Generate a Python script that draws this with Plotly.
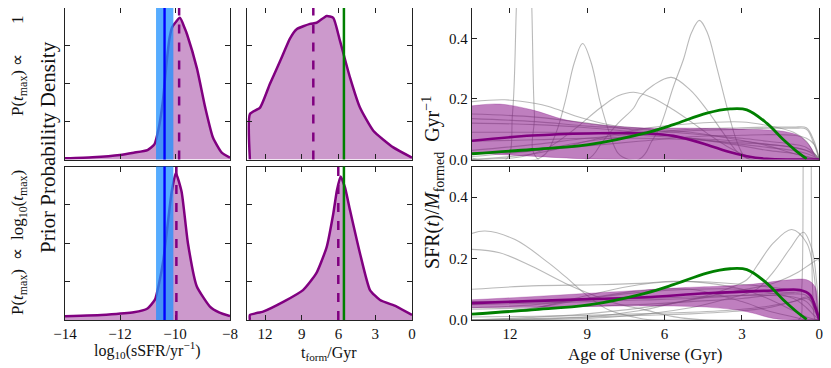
import plotly.graph_objects as go

# ---------------- data ----------------
# left column: log10 sSFR prior densities (arbitrary units, 0-4 axis)
ssfr_top_x = [-14, -13, -12, -11.5, -11, -10.75, -10.6, -10.44, -10.3, -10.2, -10.1, -9.82, -9.65, -9.56, -9.2, -8.9, -8.62, -8.3, -8]
ssfr_top_y = [0.03, 0.06, 0.12, 0.18, 0.25, 0.4, 0.8, 1.55, 2.6, 3.2, 3.5, 3.74, 3.47, 3.3, 2.4, 1.37, 0.58, 0.18, 0.05]
ssfr_bot_x = [-14, -12.5, -11.5, -11, -10.73, -10.58, -10.42, -10.12, -9.97, -9.76, -9.53, -9.21, -8.73, -8.4, -8]
ssfr_bot_y = [0.1, 0.14, 0.2, 0.3, 0.53, 0.95, 1.58, 3.34, 3.83, 3.34, 2.0, 0.88, 0.35, 0.2, 0.1]
ssfr_median = [-9.85, -9.95]
ssfr_obs = -10.38
ssfr_obs_range = [-10.69, -10.06]

# middle column: formation time prior densities
tform_top_x = [13.24, 13.24, 12.41, 11.6, 10.77, 9.96, 9.42, 8.33, 7.79, 6.97, 6.43, 5.88, 5.06, 4.25, 3.16, 1.53, 0]
tform_top_y = [0, 1.2, 1.37, 2.0, 2.6, 3.2, 3.44, 3.58, 3.61, 3.79, 3.74, 3.13, 2.16, 1.37, 0.76, 0.32, 0.05]
tform_bot_x = [13.24, 13.24, 12.16, 10.48, 8.9, 7.81, 6.97, 6.43, 6.13, 5.83, 5.48, 5.06, 4.25, 3.43, 2.61, 1.25, 0]
tform_bot_y = [0, 0.13, 0.22, 0.48, 0.78, 1.22, 1.9, 2.77, 3.38, 3.74, 3.46, 2.86, 1.74, 0.78, 0.52, 0.35, 0.13]
tform_median = [8.06, 6.02]
tform_true = 5.56

# right column: star-formation histories
grid = [13.47, 11, 9, 7, 5, 3, 2, 1, 0.5, 0.2, 0]

gray_top = [
    ([13.47, 12.15, 11.9, 11.75, 11.6, 11.3, 11.15, 11.05, 10.9, 0], [0.005, 0.0, 0.15, 0.5, 0.9, 0.9, 0.5, 0.15, 0.0, 0.0]),
    ([13.47, 11.0, 10.6, 10.2, 9.86, 9.5, 9.18, 8.85, 8.5, 8.15, 7.8, 7.4, 5.0, 0], [0, 0, 0.02, 0.09, 0.19, 0.32, 0.383, 0.32, 0.19, 0.09, 0.02, 0, 0, 0]),
    ([13.47, 11.5, 10.5, 9.5, 8.5, 7.8, 7.2, 6.5, 5.66, 4.9, 4.36, 3.59, 2.8, 2.0, 0], [0.0, 0.01, 0.04, 0.1, 0.17, 0.21, 0.222, 0.205, 0.164, 0.12, 0.087, 0.044, 0.012, 0.0, 0.0]),
    ([13.47, 9.0, 8.4, 7.8, 7.2, 6.95, 6.43, 5.74, 5.01, 4.36, 3.72, 3.2, 2.7, 0], [0, 0, 0.06, 0.12, 0.17, 0.207, 0.246, 0.271, 0.23, 0.164, 0.087, 0.027, 0, 0]),
    ([13.47, 7.0, 6.5, 6.17, 5.66, 5.27, 4.95, 4.65, 4.35, 3.98, 3.59, 3.2, 2.9, 2.6, 0], [0, 0, 0.06, 0.109, 0.24, 0.33, 0.42, 0.459, 0.42, 0.306, 0.175, 0.06, 0.01, 0, 0]),
    ([13.47, 12.2, 11.0, 10.5, 9.2, 8.0, 6.5, 5.0, 3.5, 2.0, 1.0, 0.3, 0], [0.191, 0.197, 0.185, 0.175, 0.137, 0.112, 0.1, 0.09, 0.07, 0.045, 0.02, 0.005, 0]),
    (grid, [0.03, 0.05, 0.07, 0.085, 0.1, 0.105, 0.107, 0.107, 0.105, 0.06, 0]),
    (grid, [0.01, 0.03, 0.06, 0.08, 0.095, 0.1, 0.103, 0.103, 0.1, 0.05, 0]),
    (grid, [0.0, 0.02, 0.06, 0.1, 0.118, 0.124, 0.112, 0.09, 0.06, 0.02, 0]),
    (grid, [0.15, 0.14, 0.12, 0.095, 0.07, 0.045, 0.03, 0.02, 0.01, 0.005, 0]),
    (grid, [0.12, 0.115, 0.105, 0.09, 0.07, 0.05, 0.04, 0.03, 0.02, 0.01, 0]),
    (grid, [0.09, 0.09, 0.088, 0.08, 0.07, 0.06, 0.05, 0.04, 0.03, 0.015, 0]),
    (grid, [0.06, 0.065, 0.07, 0.07, 0.065, 0.055, 0.05, 0.04, 0.03, 0.02, 0]),
    (grid, [0.135, 0.125, 0.11, 0.1, 0.085, 0.07, 0.06, 0.05, 0.04, 0.02, 0]),
    (grid, [0.02, 0.03, 0.045, 0.06, 0.075, 0.08, 0.082, 0.08, 0.07, 0.05, 0]),
]

gray_bot = [
    ([13.47, 12.96, 11.8, 10.5, 9.86, 8.95, 8.18, 7.27, 6.5, 0], [0.282, 0.29, 0.262, 0.186, 0.142, 0.076, 0.033, 0.011, 0.0, 0.0]),
    ([13.47, 12.4, 11.15, 9.86, 8.95, 7.92, 6.76, 5.66, 4.4, 0], [0.23, 0.219, 0.175, 0.12, 0.087, 0.055, 0.033, 0.011, 0.0, 0.0]),
    ([13.47, 11.15, 8.57, 6.76, 5.66, 2.81, 1.14, 0.49, 0.2, 0], [0.1, 0.111, 0.115, 0.12, 0.126, 0.115, 0.098, 0.087, 0.04, 0.0]),
    ([13.47, 9, 7, 5.66, 4.36, 2.81, 2.43, 1.78, 1.07, 0.49, 0.23, 0.05, 0], [0.0, 0.01, 0.03, 0.055, 0.08, 0.131, 0.175, 0.251, 0.295, 0.251, 0.164, 0.02, 0.0]),
    ([13.47, 8, 5, 3.72, 2.43, 1.78, 1.14, 0.62, 0.29, 0.1, 0], [0.0, 0.01, 0.04, 0.066, 0.1, 0.157, 0.232, 0.286, 0.232, 0.12, 0.0]),
    ([13.47, 9, 6, 3.5, 1.78, 0.88, 0.3, 0.04, 0], [0.0, 0.02, 0.05, 0.09, 0.12, 0.153, 0.185, 0.197, 0.19]),
    ([13.47, 2.0, 0.8, 0.68, 0.62, 0.55, 0.4, 0.32, 0.26, 0.15, 0], [0, 0, 0, 0.1, 0.6, 1.2, 1.2, 0.6, 0.1, 0.0, 0.0]),
    (grid, [0.02, 0.04, 0.08, 0.115, 0.125, 0.1, 0.07, 0.03, 0.01, 0.003, 0]),
    (grid, [0.05, 0.055, 0.06, 0.065, 0.07, 0.08, 0.085, 0.09, 0.09, 0.06, 0]),
    (grid, [0.035, 0.04, 0.045, 0.05, 0.06, 0.07, 0.08, 0.085, 0.08, 0.04, 0]),
    (grid, [0.06, 0.06, 0.065, 0.07, 0.075, 0.08, 0.08, 0.075, 0.06, 0.03, 0]),
    (grid, [0.01, 0.012, 0.015, 0.02, 0.025, 0.035, 0.045, 0.06, 0.075, 0.06, 0]),
    (grid, [0.0, 0.005, 0.01, 0.015, 0.02, 0.03, 0.04, 0.06, 0.07, 0.05, 0]),
    (grid, [0.04, 0.05, 0.07, 0.09, 0.1, 0.1, 0.09, 0.07, 0.04, 0.015, 0]),
    (grid, [0.02, 0.04, 0.07, 0.095, 0.1, 0.06, 0.03, 0.01, 0.0, 0.0, 0]),
]

band_top_up_x = [13.47, 12.4, 11.15, 9.86, 8.57, 6.76, 5.66, 2.81, 1.4, 0.75, 0.36, 0.1, 0]
band_top_up_y = [0.177, 0.183, 0.164, 0.131, 0.115, 0.104, 0.104, 0.1, 0.093, 0.076, 0.044, 0.005, 0]
band_top_lo_x = [13.47, 11.15, 8.95, 5, 0]
band_top_lo_y = [0.022, 0.011, 0.002, 0, 0]
med_top_x = [13.47, 11.15, 8.95, 6.76, 5.66, 4.36, 3.59, 2.81, 2.04, 1.0, 0]
med_top_y = [0.062, 0.079, 0.086, 0.086, 0.078, 0.049, 0.027, 0.011, 0.002, 0, 0]

band_bot_up_x = [13.47, 11.15, 8.95, 6.76, 5.66, 2.81, 1.14, 0.49, 0.17, 0.05, 0]
band_bot_up_y = [0.066, 0.076, 0.087, 0.098, 0.104, 0.115, 0.131, 0.131, 0.109, 0.04, 0]
band_bot_lo_x = [13.47, 11.15, 8.95, 6.95, 4.36, 2.81, 1.78, 1.0, 0]
band_bot_lo_y = [0.04, 0.042, 0.044, 0.046, 0.042, 0.027, 0.005, 0, 0]
med_bot_x = [13.47, 8.95, 6.76, 4.36, 1.78, 0.75, 0.36, 0.17, 0]
med_bot_y = [0.055, 0.068, 0.074, 0.087, 0.096, 0.098, 0.082, 0.044, 0]

true_x = [13.47, 11.15, 8.95, 6.76, 5.66, 4.36, 3.46, 2.81, 2.04, 1.4, 0.88, 0.49]
true_y = [0.019, 0.033, 0.049, 0.087, 0.115, 0.153, 0.167, 0.164, 0.12, 0.066, 0.027, 0.002]

# ---------------- styling ----------------
FONT = "Liberation Serif"
PURPLE = "purple"
GREEN = "green"
GRAY = "rgba(128,128,128,0.55)"

# the page body keeps its default 8px margin, so the figure starts 8px into the
# window; positions below are given in window pixels
PAD = 8
W, H = 831 - PAD, 368 - PAD


def px_x(a, b):
    return [max(0, (a - PAD) / W), min(1, (b - PAD) / W)]


def px_y(top, bot):
    return [max(0, 1 - (bot - PAD) / H), min(1, 1 - (top - PAD) / H)]


fig = go.Figure()

# (x axis id, y axis id) for each panel
P_SSFR_T, P_TF_T, P_SFH_T = ("x", "y"), ("x2", "y2"), ("x3", "y3")
P_SSFR_B, P_TF_B, P_SFH_B = ("x4", "y4"), ("x5", "y5"), ("x6", "y6")


def density(panel, xs, ys):
    fig.add_trace(go.Scatter(x=xs, y=ys, mode="lines", fill="tozeroy",
                             fillcolor="rgba(128,0,128,0.4)",
                             line=dict(color=PURPLE, width=2.5, shape="spline", smoothing=0.5),
                             xaxis=panel[0], yaxis=panel[1], showlegend=False))


def vline(panel, x, color, dash="solid", width=2.5):
    fig.add_shape(type="line", x0=x, x1=x, y0=0, y1=1, xref=panel[0], yref=panel[1] + " domain",
                  line=dict(color=color, width=width, dash=dash))


def vband(panel, lo, hi, color):
    fig.add_shape(type="rect", x0=lo, x1=hi, y0=0, y1=1, xref=panel[0], yref=panel[1] + " domain",
                  fillcolor=color, line_width=0)


density(P_SSFR_T, ssfr_top_x, ssfr_top_y)
density(P_SSFR_B, ssfr_bot_x, ssfr_bot_y)
density(P_TF_T, tform_top_x, tform_top_y)
density(P_TF_B, tform_bot_x, tform_bot_y)

for panel, med in [(P_SSFR_T, ssfr_median[0]), (P_SSFR_B, ssfr_median[1])]:
    vband(panel, ssfr_obs_range[0], ssfr_obs_range[1], "rgba(30,144,255,0.75)")
    vline(panel, ssfr_obs, "blue", width=2.4)
    vline(panel, med, PURPLE, dash="dash")

for panel, med in [(P_TF_T, tform_median[0]), (P_TF_B, tform_median[1])]:
    vline(panel, med, PURPLE, dash="dash")
    vline(panel, tform_true, GREEN)


def sfh(panel, grays, up_x, up_y, lo_x, lo_y, med_x, med_y):
    for gx, gy in grays:
        fig.add_trace(go.Scatter(x=gx, y=gy, mode="lines", line=dict(color=GRAY, width=1.1, shape="spline"),
                                 xaxis=panel[0], yaxis=panel[1], showlegend=False))
    fig.add_trace(go.Scatter(x=lo_x, y=lo_y, mode="lines", line=dict(color="rgba(128,0,128,0.5)", width=0.5, shape="spline"),
                             xaxis=panel[0], yaxis=panel[1], showlegend=False))
    fig.add_trace(go.Scatter(x=up_x, y=up_y, mode="lines", fill="tonexty", fillcolor="rgba(128,0,128,0.5)",
                             line=dict(color="rgba(128,0,128,0.5)", width=0.5, shape="spline"),
                             xaxis=panel[0], yaxis=panel[1], showlegend=False))
    fig.add_trace(go.Scatter(x=med_x, y=med_y, mode="lines", line=dict(color=PURPLE, width=2.6, shape="spline"),
                             xaxis=panel[0], yaxis=panel[1], showlegend=False))
    fig.add_trace(go.Scatter(x=true_x, y=true_y, mode="lines", line=dict(color=GREEN, width=2.8, shape="spline"),
                             xaxis=panel[0], yaxis=panel[1], showlegend=False))


sfh(P_SFH_T, gray_top, band_top_up_x, band_top_up_y, band_top_lo_x, band_top_lo_y, med_top_x, med_top_y)
sfh(P_SFH_B, gray_bot, band_bot_up_x, band_bot_up_y, band_bot_lo_x, band_bot_lo_y, med_bot_x, med_bot_y)

common = dict(showline=True, linecolor="#222", linewidth=1.3, mirror="allticks", ticks="inside",
              ticklen=5, tickwidth=1.1, tickcolor="#222", showgrid=False, zeroline=False,
              ticklabeloverflow="allow", tickfont=dict(family=FONT, size=15, color="#111"))

top_rows = px_y(8, 159.5)
bot_rows = px_y(166.5, 320)
col_a = px_x(65, 230)
col_b = px_x(246.7, 412)
col_c = px_x(472, 819.3)

ssfr_ticks = [-14, -12, -10, -8]
age_ticks = [12, 9, 6, 3, 0]
sfr_ticks = [0.0, 0.2, 0.4]

fig.update_layout(
    width=W, height=H, margin=dict(l=0, r=0, t=0, b=0, autoexpand=False),
    paper_bgcolor="white", plot_bgcolor="white",
    font=dict(family=FONT, size=15, color="#111"),
    xaxis=dict(domain=col_a, range=[-14, -8], tickvals=ssfr_ticks, showticklabels=False, anchor="y", **common),
    yaxis=dict(domain=top_rows, range=[0, 4], dtick=1, showticklabels=False, anchor="x", **common),
    xaxis2=dict(domain=col_b, range=[13.5, 0], tickvals=age_ticks, showticklabels=False, anchor="y2", **common),
    yaxis2=dict(domain=top_rows, range=[0, 4], dtick=1, showticklabels=False, anchor="x2", **common),
    xaxis3=dict(domain=col_c, range=[13.47, 0], tickvals=age_ticks, showticklabels=False, anchor="y3", **common),
    yaxis3=dict(domain=top_rows, range=[0, 0.5], tickvals=sfr_ticks, tickformat=".1f", anchor="x3", **common),
    xaxis4=dict(domain=col_a, range=[-14, -8], tickvals=ssfr_ticks, anchor="y4", **common),
    yaxis4=dict(domain=bot_rows, range=[0, 4], dtick=1, showticklabels=False, anchor="x4", **common),
    xaxis5=dict(domain=col_b, range=[13.5, 0], tickvals=age_ticks, anchor="y5", **common),
    yaxis5=dict(domain=bot_rows, range=[0, 4], dtick=1, showticklabels=False, anchor="x5", **common),
    xaxis6=dict(domain=col_c, range=[13.47, 0], tickvals=age_ticks, anchor="y6", **common),
    yaxis6=dict(domain=bot_rows, range=[0, 0.5], tickvals=sfr_ticks, tickformat=".1f", anchor="x6", **common),
)


def label(text, x, y, angle=0, size=16):
    fig.add_annotation(text=text, x=(x - PAD) / W, y=1 - (y - PAD) / H, xref="paper", yref="paper",
                       showarrow=False, textangle=angle, font=dict(family=FONT, size=size, color="#111"),
                       xanchor="center", yanchor="middle")


SP = "&nbsp;"
label("P(<i>t</i><sub>max</sub>)" + SP + "∝" + SP * 7 + "1", 19, 66, -90, 17)
label("P(<i>t</i><sub>max</sub>)" + SP * 2 + "∝" + SP * 2 + "log<sub>10</sub>(<i>t</i><sub>max</sub>)", 19, 243, -90, 17)
label("Prior Probability Density", 48, 147, -90, 21)
label("SFR(<i>t</i>)/<i>M</i><sub>formed</sub>" + SP * 2 + "Gyr<sup>−1</sup>", 433, 183, -90, 20)
label("log<sub>10</sub>(sSFR/yr<sup>−1</sup>)", 147, 350, 0, 16)
label("t<sub>form</sub>/Gyr", 329, 353, 0, 16)
label("Age of Universe (Gyr)", 645, 354, 0, 17)

fig.write_html("out.html")
